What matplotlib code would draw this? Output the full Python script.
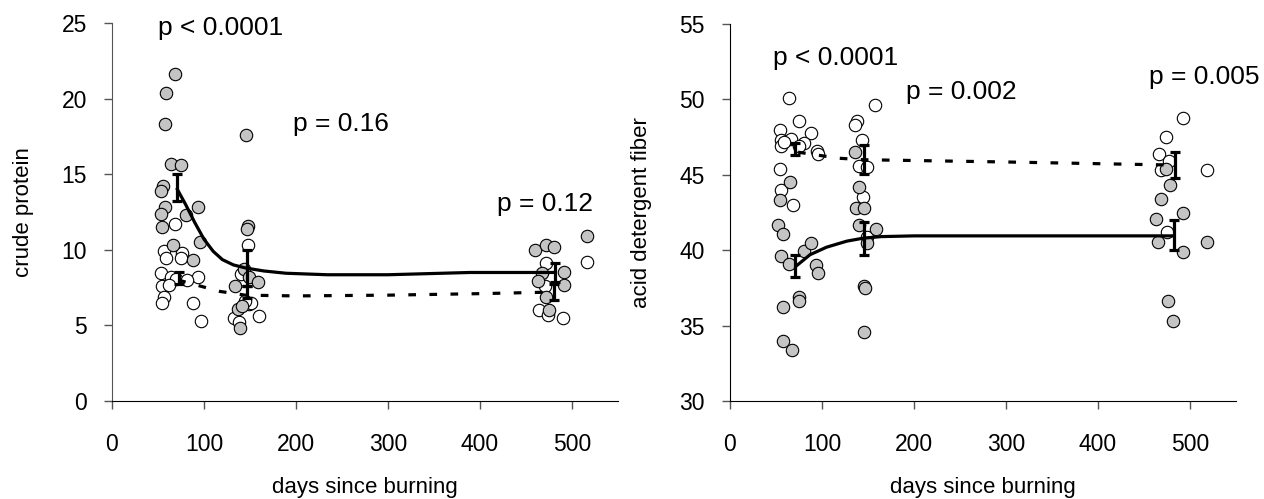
import matplotlib
matplotlib.use("Agg")
import matplotlib.pyplot as plt

plt.rcParams['font.family'] = ['Liberation Sans', 'DejaVu Sans']

# ---- crude protein (left panel) ----
cp_open_x = [68, 56, 76, 59, 75, 53, 64, 70, 94, 82, 54, 62, 56, 54, 88, 97,
             148, 140, 149, 151, 160, 133, 138, 145,
             516, 472, 471, 464, 474, 490]
cp_open_y = [11.7, 9.9, 9.8, 9.45, 9.45, 8.45, 8.2, 8.1, 8.2, 8.0, 7.6, 7.7, 6.9, 6.5, 6.5, 5.3,
             10.3, 8.4, 6.4, 6.5, 5.6, 5.5, 5.25, 6.6,
             9.2, 9.1, 7.6, 6.0, 5.7, 5.5]
cp_fill_x = [68, 59, 58, 64, 75, 55, 53, 58, 94, 80, 53, 54, 66, 96, 88,
             146, 148, 147, 143, 149, 159, 134, 137, 141, 139,
             516, 460, 472, 480, 467, 491, 463, 491, 472, 475]
cp_fill_y = [21.6, 20.4, 18.3, 15.7, 15.6, 14.2, 13.9, 12.8, 12.8, 12.3, 12.4, 11.5, 10.3, 10.5, 9.3,
             17.6, 11.6, 11.4, 8.7, 8.2, 7.85, 7.6, 6.1, 6.3, 4.8,
             10.9, 10.0, 10.3, 10.2, 8.45, 8.5, 7.95, 7.7, 6.85, 6.0]

cp_burn_curve_x = [71, 80, 90, 100, 110, 120, 132, 145, 165, 189, 234, 300, 389, 480]
cp_burn_curve_y = [14.0, 13.0, 11.8, 10.7, 9.9, 9.35, 9.0, 8.8, 8.6, 8.45, 8.35, 8.35, 8.5, 8.5]
cp_ctrl_curve_x = [72, 96, 117, 145, 200, 300, 400, 476]
cp_ctrl_curve_y = [8.0, 7.6, 7.25, 7.0, 6.95, 7.0, 7.1, 7.2]

cp_burn_mean_x = [71, 147, 482]
cp_burn_mean = [14.1, 8.8, 8.5]
cp_burn_err = [0.9, 1.2, 0.6]
cp_ctrl_mean_x = [73, 147, 480]
cp_ctrl_mean = [8.15, 7.2, 7.2]
cp_ctrl_err = [0.4, 0.4, 0.55]

# ---- acid detergent fiber (right panel) ----
adf_open_x = [64, 75, 54, 88, 55, 55, 66, 59, 80, 75, 95, 96, 54, 56, 68,
              158, 138, 136, 143, 140, 149, 145, 149,
              492, 474, 466, 477, 469, 519, 475]
adf_open_y = [50.1, 48.6, 48.0, 47.75, 47.3, 46.9, 47.35, 47.2, 47.1, 46.9, 46.6, 46.4, 45.4, 44.0, 43.0,
              49.6, 48.6, 48.3, 47.3, 45.6, 45.5, 43.5, 40.9,
              48.75, 47.5, 46.4, 45.9, 45.3, 45.3, 41.2]
adf_fill_x = [65, 54, 52, 58, 55, 64, 80, 88, 94, 96, 75, 75, 58, 58, 67,
              136, 140, 137, 146, 140, 159, 149, 146, 147, 146,
              474, 478, 469, 463, 492, 465, 492, 519, 476, 482]
adf_fill_y = [44.5, 43.3, 41.7, 41.05, 39.6, 39.1, 39.95, 40.5, 39.0, 38.5, 36.9, 36.6, 36.25, 34.0, 33.4,
              46.5, 44.2, 42.8, 42.8, 41.7, 41.4, 40.5, 37.6, 37.5, 34.6,
              45.4, 44.3, 43.4, 42.1, 42.45, 40.55, 39.9, 40.55, 36.6, 35.3]

adf_burn_curve_x = [73, 87, 105, 127, 145, 164, 200, 300, 400, 480]
adf_burn_curve_y = [39.0, 39.7, 40.2, 40.6, 40.8, 40.9, 40.95, 40.95, 40.95, 40.95]
adf_ctrl_curve_x = [74, 118, 145, 300, 478]
adf_ctrl_curve_y = [46.5, 46.1, 46.0, 45.85, 45.65]

adf_burn_mean_x = [71, 146, 483]
adf_burn_mean = [38.95, 40.8, 41.0]
adf_burn_err = [0.75, 1.1, 1.0]
adf_ctrl_mean_x = [71, 146, 484]
adf_ctrl_mean = [46.7, 46.0, 45.65]
adf_ctrl_err = [0.4, 0.95, 0.85]

xticks = [0, 100, 200, 300, 400, 500]

fig = plt.figure(figsize=(12.64, 4.99), dpi=100)
ax1 = fig.add_axes([0.0886, 0.1964, 0.4003, 0.7575])
ax2 = fig.add_axes([0.5775, 0.1964, 0.4003, 0.7555])


def draw_panel(ax, ox, oy, fx, fy, bcx, bcy, ccx, ccy,
               bmx, bm, be, cmx, cm, ce, ylim, yticks, ylabel, ptexts):
    ax.scatter(ox, oy, s=80, facecolor='white', edgecolor='black', linewidth=0.8, zorder=2)
    ax.scatter(fx, fy, s=80, facecolor='#c4c4c4', edgecolor='black', linewidth=0.8, zorder=3)
    ax.plot(bcx, bcy, color='black', lw=2.3, zorder=4)
    ax.plot(ccx, ccy, color='black', lw=2.3, linestyle=(0, (2.4, 4.2)),
            dash_capstyle='butt', zorder=4)
    ax.errorbar(bmx, bm, yerr=be, fmt='none', ecolor='black', elinewidth=2.3,
                capsize=3.5, capthick=2.3, zorder=5)
    ax.errorbar(cmx, cm, yerr=ce, fmt='none', ecolor='black', elinewidth=2.3,
                capsize=3.5, capthick=2.3, zorder=5)
    ax.set_xlim(0, 550)
    ax.set_ylim(*ylim)
    ax.set_xticks(xticks)
    ax.set_yticks(yticks)
    ax.spines['top'].set_visible(False)
    ax.spines['right'].set_visible(False)
    ax.spines['left'].set_color('#555555')
    ax.tick_params(axis='both', direction='out', length=6, width=1,
                   labelsize=16.5, color='#555555')
    ax.tick_params(axis='x', pad=17)
    ax.tick_params(axis='y', pad=12)
    ax.set_xlabel('days since burning', fontsize=16, labelpad=15)
    ax.set_ylabel(ylabel, fontsize=16, labelpad=20)
    for tx, ty, s in ptexts:
        ax.text(tx, ty, s, fontsize=19, ha='left', va='center')


draw_panel(ax1, cp_open_x, cp_open_y, cp_fill_x, cp_fill_y,
           cp_burn_curve_x, cp_burn_curve_y, cp_ctrl_curve_x, cp_ctrl_curve_y,
           cp_burn_mean_x, cp_burn_mean, cp_burn_err,
           cp_ctrl_mean_x, cp_ctrl_mean, cp_ctrl_err,
           (0, 25), [0, 5, 10, 15, 20, 25], 'crude protein',
           [(50, 24.7, 'p < 0.0001'), (197, 18.3, 'p = 0.16'), (418, 13.0, 'p = 0.12')])

draw_panel(ax2, adf_open_x, adf_open_y, adf_fill_x, adf_fill_y,
           adf_burn_curve_x, adf_burn_curve_y, adf_ctrl_curve_x, adf_ctrl_curve_y,
           adf_burn_mean_x, adf_burn_mean, adf_burn_err,
           adf_ctrl_mean_x, adf_ctrl_mean, adf_ctrl_err,
           (30, 55), [30, 35, 40, 45, 50, 55], 'acid detergent fiber',
           [(47, 52.75, 'p < 0.0001'), (191, 50.5, 'p = 0.002'), (456, 51.5, 'p = 0.005')])
ax2.spines['left'].set_color('black')

fig.savefig('out.png', dpi=100)
